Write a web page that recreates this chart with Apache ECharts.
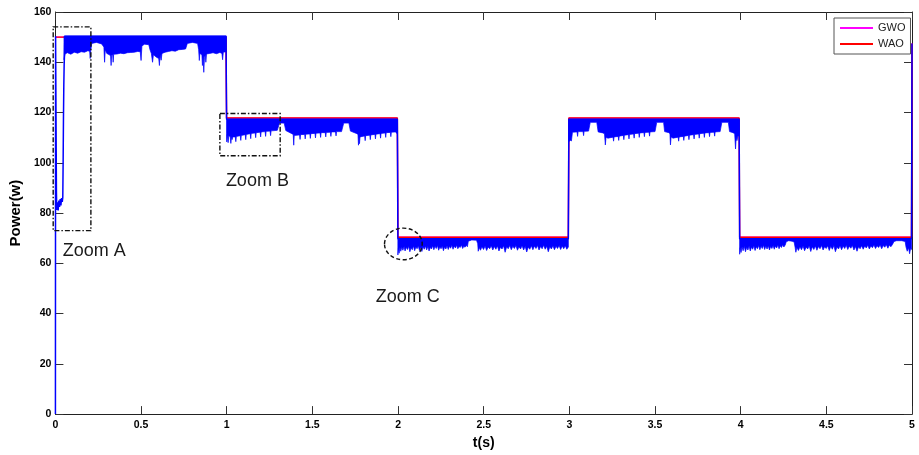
<!DOCTYPE html>
<html>
<head>
<meta charset="utf-8">
<script src="https://cdn.jsdelivr.net/npm/echarts@6/dist/echarts.min.js"></script>
<style>
  html, body { margin: 0; padding: 0; background: #ffffff; }
  #chart { width: 919px; height: 455px; }
</style>
</head>
<body>
<div id="chart"></div>
<script>
// Time axis ticks (s) and power axis ticks (W)
const timeTicks = [0, 0.5, 1, 1.5, 2, 2.5, 3, 3.5, 4, 4.5, 5];
const powerTicks = [0, 20, 40, 60, 80, 100, 120, 140, 160];

// WAO reference power (stepped irradiance profile)
const waoPower = [[0.004,150],[0.996,150],[0.999,117.8],[1.996,117.8],[1.999,70.4],[2.994,70.4],[2.997,117.8],[3.991,117.8],[3.994,70.4],[4.997,70.4],[5.0,147.5]];
// GWO power (runs along the same steps)
const gwoPower = [[0.004,150],[0.996,150],[0.999,117.8],[1.996,117.8],[1.999,70.4],[2.994,70.4],[2.997,117.8],[3.991,117.8],[3.994,70.4],[4.997,70.4],[5.0,147.5]];

// Oscillating tracker output: start-up transient and step transitions
const traceTop = [[0,0],[0.001,150.4],[0.004,150.4],[0.006,88],[0.008,81.2],[0.012,84.3],[0.016,81.0],[0.020,85.0],[0.024,82.4],[0.028,85.6],[0.032,83.0],[0.036,86.0],[0.040,84.4],[0.043,86.2],[0.045,100],[0.047,118],[0.049,131],[0.051,139],[0.053,143],[0.055,150.4],[0.996,150.4],[0.999,117.3],[1.996,117.3],[1.999,69.8],[2.994,69.8],[2.997,117.3],[3.991,117.3],[3.994,69.8],[4.997,69.8],[5.0,147.5]];

// Upper level of the oscillation band on each plateau
const bandTop = [150.4, 117.3, 69.8, 117.3, 69.8];

// Lower edge of the oscillation band, one array per plateau
const lowA = [[0.050,141.0],[0.056,143.3],[0.07,143.8],[0.09,143.2],[0.11,144.0],[0.13,143.6],[0.15,144.2],[0.17,144.0],[0.19,144.6],[0.200,144.3],[0.203,141.5],[0.206,144.5],[0.212,147.5],[0.24,147.9],[0.27,147.3],[0.283,146.0],[0.287,140.0],[0.291,145.0],[0.30,143.5],[0.315,143.0],[0.322,142.5],[0.325,138.7],[0.328,142.8],[0.334,143.0],[0.337,140.0],[0.340,143.2],[0.36,143.3],[0.38,143.6],[0.40,143.4],[0.42,143.8],[0.44,143.9],[0.46,144.0],[0.48,144.3],[0.495,144.2],[0.500,140.7],[0.505,146.5],[0.52,147.2],[0.545,147.0],[0.552,145.0],[0.56,143.5],[0.567,140.0],[0.572,143.0],[0.59,142.0],[0.603,141.5],[0.607,138.7],[0.611,143.0],[0.617,140.8],[0.622,143.5],[0.64,144.0],[0.66,144.3],[0.68,144.6],[0.70,144.4],[0.72,145.0],[0.74,145.1],[0.76,145.3],[0.77,147.5],[0.80,147.9],[0.83,147.5],[0.836,145.0],[0.840,140.7],[0.843,143.5],[0.855,143.0],[0.858,138.7],[0.862,142.5],[0.866,136.0],[0.870,142.0],[0.875,143.0],[0.878,140.0],[0.882,143.3],[0.90,143.5],[0.92,143.8],[0.94,143.4],[0.96,143.9],[0.972,143.5],[0.976,141.0],[0.980,144.0],[0.996,144.2]];

const lowB = [[0.999,111.5],[1.000,108.3],[1.003,111.2],[1.008,108.0],[1.012,110.8],[1.020,110.4],[1.024,107.7],[1.028,110.6],[1.031,109.2],[1.035,110.3],[1.050,110.3],[1.053,108.4],[1.056,110.5],[1.079,110.8],[1.082,108.9],[1.085,110.9],[1.108,111.2],[1.111,109.2],[1.114,111.3],[1.137,111.6],[1.140,109.6],[1.143,111.7],[1.166,111.9],[1.169,110.0],[1.172,112.0],[1.195,112.2],[1.198,110.3],[1.201,112.3],[1.224,112.4],[1.227,110.5],[1.230,112.5],[1.253,112.6],[1.256,110.8],[1.259,112.7],[1.295,112.9],[1.308,115.8],[1.335,115.8],[1.345,112.8],[1.380,111.6],[1.388,111.3],[1.391,107.0],[1.394,110.9],[1.425,111.1],[1.428,109.3],[1.431,111.2],[1.455,111.3],[1.458,109.5],[1.461,111.4],[1.485,111.5],[1.488,109.7],[1.491,111.6],[1.515,111.7],[1.518,109.9],[1.521,111.8],[1.545,111.9],[1.548,110.1],[1.551,112.0],[1.575,112.0],[1.578,110.3],[1.581,112.1],[1.605,112.2],[1.608,110.5],[1.611,112.3],[1.635,112.3],[1.638,110.7],[1.641,112.4],[1.670,112.4],[1.683,115.8],[1.713,115.8],[1.722,112.6],[1.760,111.6],[1.766,111.3],[1.769,107.0],[1.772,110.6],[1.775,107.6],[1.778,110.3],[1.805,110.7],[1.808,108.8],[1.811,110.8],[1.835,111.0],[1.838,109.2],[1.841,111.1],[1.865,111.3],[1.868,109.5],[1.871,111.4],[1.895,111.6],[1.898,109.8],[1.901,111.7],[1.925,111.9],[1.928,110.1],[1.931,112.0],[1.955,112.1],[1.958,110.4],[1.961,112.2],[1.985,112.3],[1.996,111.5]];

const lowC = [[1.999,63.3],[2.002,66.0],[2.006,64.0],[2.011,66.3],[2.016,64.8],[2.022,66.5],[2.028,65.2],[2.035,66.7],[2.041,64.9],[2.048,66.4],[2.055,65.5],[2.062,66.8],[2.069,64.6],[2.076,66.2],[2.083,65.4],[2.090,66.9],[2.097,65.0],[2.104,66.5],[2.111,65.8],[2.118,67.0],[2.125,65.1],[2.132,66.4],[2.139,64.7],[2.146,66.6],[2.153,65.6],[2.160,66.9],[2.167,65.3],[2.174,66.7],[2.181,64.9],[2.188,66.3],[2.195,65.7],[2.202,67.0],[2.209,65.4],[2.216,66.8],[2.223,65.9],[2.230,67.1],[2.237,65.2],[2.244,66.5],[2.251,65.8],[2.258,66.9],[2.265,65.0],[2.272,66.6],[2.279,65.7],[2.286,67.0],[2.293,65.5],[2.300,66.8],[2.307,66.0],[2.314,67.2],[2.321,65.6],[2.328,66.9],[2.335,66.1],[2.342,67.2],[2.349,65.8],[2.356,66.7],[2.363,66.3],[2.370,67.3],[2.377,65.9],[2.384,66.8],[2.391,66.4],[2.398,67.1],[2.405,66.6],[2.410,68.8],[2.430,69.3],[2.458,69.2],[2.465,67.8],[2.468,64.8],[2.474,66.3],[2.481,65.2],[2.490,66.6],[2.499,65.5],[2.508,66.9],[2.517,65.1],[2.526,66.5],[2.535,65.8],[2.544,67.0],[2.553,65.3],[2.562,66.7],[2.571,65.6],[2.580,66.9],[2.589,64.9],[2.598,66.4],[2.607,65.7],[2.616,67.0],[2.625,64.4],[2.634,66.6],[2.643,65.8],[2.652,67.1],[2.661,65.4],[2.670,66.8],[2.679,65.9],[2.688,67.1],[2.697,65.2],[2.706,66.6],[2.715,65.7],[2.724,67.0],[2.733,65.3],[2.742,66.8],[2.751,64.5],[2.760,66.5],[2.769,65.6],[2.778,67.0],[2.787,65.4],[2.796,66.9],[2.805,65.9],[2.814,67.1],[2.823,65.3],[2.832,66.7],[2.841,65.8],[2.850,67.2],[2.859,65.6],[2.868,66.8],[2.877,64.6],[2.886,66.6],[2.895,65.7],[2.904,67.0],[2.913,65.4],[2.922,66.8],[2.931,65.9],[2.940,67.1],[2.949,65.5],[2.958,66.9],[2.967,65.8],[2.976,67.0],[2.985,65.6],[2.994,66.5]];

const lowD = [[2.997,110.5],[2.999,108.5],[3.005,109.0],[3.012,108.7],[3.018,112.2],[3.045,112.3],[3.048,110.5],[3.051,112.4],[3.080,112.4],[3.083,110.8],[3.086,112.5],[3.112,112.6],[3.122,116.1],[3.160,116.1],[3.168,112.3],[3.195,111.9],[3.205,111.6],[3.210,107.1],[3.214,110.2],[3.225,109.8],[3.255,110.2],[3.258,108.6],[3.261,110.3],[3.285,110.5],[3.288,108.9],[3.291,110.6],[3.315,110.9],[3.318,109.2],[3.321,111.0],[3.345,111.2],[3.348,109.5],[3.351,111.3],[3.375,111.5],[3.378,109.8],[3.381,111.6],[3.405,111.8],[3.408,110.1],[3.411,111.9],[3.435,112.0],[3.438,110.4],[3.441,112.1],[3.465,112.2],[3.468,110.6],[3.471,112.3],[3.500,112.4],[3.510,116.1],[3.550,116.1],[3.556,112.4],[3.580,112.0],[3.587,111.6],[3.590,107.1],[3.594,110.3],[3.605,109.8],[3.635,110.2],[3.638,108.6],[3.641,110.3],[3.665,110.5],[3.668,108.9],[3.671,110.6],[3.695,110.9],[3.698,109.2],[3.701,111.0],[3.725,111.2],[3.728,109.5],[3.731,111.3],[3.755,111.5],[3.758,109.8],[3.761,111.6],[3.785,111.8],[3.788,110.1],[3.791,111.9],[3.815,112.0],[3.818,110.4],[3.821,112.1],[3.845,112.2],[3.848,110.6],[3.851,112.3],[3.880,112.4],[3.890,116.1],[3.928,116.1],[3.935,112.4],[3.955,112.0],[3.965,111.6],[3.970,105.5],[3.974,110.4],[3.978,108.8],[3.985,111.0],[3.991,110.5]];

const lowE = [[3.994,63.6],[3.997,66.2],[4.002,64.3],[4.008,66.6],[4.014,65.0],[4.021,66.8],[4.028,64.6],[4.035,66.4],[4.042,65.3],[4.049,66.9],[4.056,64.9],[4.063,66.5],[4.070,65.6],[4.077,67.0],[4.084,65.1],[4.091,66.6],[4.098,65.8],[4.105,67.1],[4.112,65.4],[4.119,66.8],[4.126,65.9],[4.133,67.2],[4.140,65.5],[4.147,66.9],[4.154,65.7],[4.161,67.0],[4.168,65.3],[4.175,66.7],[4.182,65.9],[4.189,67.1],[4.196,65.6],[4.203,66.9],[4.210,66.1],[4.217,67.3],[4.224,65.8],[4.231,67.0],[4.238,66.3],[4.245,67.4],[4.252,66.5],[4.260,67.3],[4.266,68.6],[4.280,69.0],[4.300,68.8],[4.312,68.5],[4.318,66.2],[4.322,64.4],[4.328,66.3],[4.337,65.1],[4.346,66.6],[4.355,65.4],[4.364,66.9],[4.373,65.0],[4.382,66.5],[4.391,65.7],[4.400,67.0],[4.409,64.7],[4.418,66.6],[4.427,65.5],[4.436,66.9],[4.445,65.2],[4.454,66.7],[4.463,65.8],[4.472,67.1],[4.481,65.3],[4.490,66.6],[4.499,65.9],[4.508,67.0],[4.517,65.1],[4.526,66.8],[4.535,65.6],[4.544,67.1],[4.553,64.6],[4.562,66.5],[4.571,65.7],[4.580,67.0],[4.589,65.4],[4.598,66.9],[4.607,65.9],[4.616,67.2],[4.625,65.5],[4.634,66.8],[4.643,66.0],[4.652,67.1],[4.661,65.3],[4.670,66.7],[4.679,64.8],[4.688,66.6],[4.697,65.8],[4.706,67.0],[4.715,65.6],[4.724,66.9],[4.733,66.1],[4.742,67.2],[4.751,65.7],[4.760,66.9],[4.769,66.2],[4.778,67.3],[4.787,65.9],[4.796,67.0],[4.805,66.3],[4.814,67.3],[4.823,65.8],[4.832,67.1],[4.841,66.4],[4.850,67.4],[4.859,66.0],[4.868,67.2],[4.877,66.6],[4.886,67.5],[4.895,68.7],[4.910,69.0],[4.940,69.0],[4.960,68.7],[4.965,66.5],[4.972,64.8],[4.980,66.2],[4.986,63.8],[4.992,66.0],[4.997,65.5]];

const bandLows = [lowA, lowB, lowC, lowD, lowE];

// Zoom annotations: rectangles / ellipse bounds in data units, and label anchors
const zoomBoxes = [[-0.013, 154.1, 0.207, 73.0], [0.96, 119.6, 1.312, 102.8]];
const zoomEllipse = [1.921, 74.0, 2.141, 61.4];
const zoomLabels = [['Zoom A', 0.043, 65.0], ['Zoom B', 0.995, 92.8], ['Zoom C', 1.87, 46.5]];

const chart = echarts.init(document.getElementById('chart'), null, { renderer: 'canvas' });

const tickFont = { fontFamily: 'Liberation Sans, Arial, sans-serif', fontWeight: 'bold', fontSize: 10.5, color: '#000' };
const axisLineStyle = { color: '#222', width: 1 };
const tickStyle = { color: '#333', width: 1 };

function bandRender(params, api) {
  const i = api.value(2);
  const low = bandLows[i];
  const top = bandTop[i];
  const pts = [];
  pts.push(api.coord([low[0][0], top]));
  pts.push(api.coord([low[low.length - 1][0], top]));
  for (let k = low.length - 1; k >= 0; k--) pts.push(api.coord(low[k]));
  return {
    type: 'polygon',
    shape: { points: pts },
    style: { fill: '#0000ff', stroke: '#0000ff', lineWidth: 0.7 }
  };
}

const option = {
  animation: false,
  backgroundColor: '#ffffff',
  grid: { left: 52, right: 7, top: 12, bottom: 37, containLabel: false },
  legend: {
    data: ['GWO', 'WAO'],
    orient: 'vertical',
    left: 834, top: 18,
    padding: [4, 5, 4, 6],
    itemGap: 4,
    itemWidth: 33, itemHeight: 2,
    icon: 'rect',
    backgroundColor: '#ffffff',
    borderColor: '#555',
    borderWidth: 1,
    borderRadius: 0,
    textStyle: { fontFamily: 'Liberation Sans, Arial, sans-serif', fontSize: 11, color: '#222', lineHeight: 12 }
  },
  xAxis: [
    {
      type: 'value', min: 0, max: 5, interval: 0.5, position: 'bottom',
      name: 't(s)', nameLocation: 'middle', nameGap: 16,
      nameTextStyle: { fontFamily: 'Liberation Sans, Arial, sans-serif', fontWeight: 'bold', fontSize: 14, color: '#000' },
      axisLine: { onZero: false, lineStyle: axisLineStyle },
      axisTick: { inside: true, length: 8, lineStyle: tickStyle },
      axisLabel: Object.assign({ margin: 6, formatter: v => String(timeTicks.find(t => Math.abs(t - v) < 1e-9) ?? v) }, tickFont),
      splitLine: { show: false }
    },
    {
      type: 'value', min: 0, max: 5, interval: 0.5, position: 'top',
      axisLine: { onZero: false, lineStyle: axisLineStyle },
      axisTick: { inside: true, length: 8, lineStyle: tickStyle },
      axisLabel: { show: false },
      splitLine: { show: false }
    }
  ],
  yAxis: [
    {
      type: 'value', min: 0, max: 160, interval: 20, position: 'left',
      name: 'Power(w)', nameLocation: 'middle', nameGap: 26, nameRotate: 90,
      nameTextStyle: { fontFamily: 'Liberation Sans, Arial, sans-serif', fontWeight: 'bold', fontSize: 15, color: '#000' },
      axisLine: { show: true, onZero: false, lineStyle: axisLineStyle },
      axisTick: { show: true, inside: true, length: 8, lineStyle: tickStyle },
      axisLabel: Object.assign({ margin: 4, formatter: v => String(powerTicks.find(t => t === v) ?? v) }, tickFont),
      splitLine: { show: false }
    },
    {
      type: 'value', min: 0, max: 160, interval: 20, position: 'right',
      axisLine: { show: true, onZero: false, lineStyle: axisLineStyle },
      axisTick: { show: true, inside: true, length: 8, lineStyle: tickStyle },
      axisLabel: { show: false },
      splitLine: { show: false }
    }
  ],
  series: [
    {
      name: 'GWO', type: 'line', data: gwoPower, showSymbol: false, z: 1,
      lineStyle: { color: '#ff00ff', width: 1.2 }, itemStyle: { color: '#ff00ff' }
    },
    {
      name: 'WAO', type: 'line', data: waoPower, showSymbol: false, z: 2,
      lineStyle: { color: '#ff0000', width: 1.4 }, itemStyle: { color: '#ff0000' }
    },
    {
      name: 'Band', type: 'custom', z: 3,
      renderItem: bandRender,
      data: bandLows.map((low, i) => [low[0][0], bandTop[i], i]),
      encode: { x: 0, y: 1 },
      silent: true
    },
    {
      name: 'Tracker', type: 'line', data: traceTop, showSymbol: false, z: 4,
      lineStyle: { color: '#0000ff', width: 1.5 }, itemStyle: { color: '#0000ff' }
    }
  ]
};

chart.setOption(option);

// Zoom region annotations placed through the axis scales
const toPx = p => chart.convertToPixel({ seriesIndex: 1 }, p);
const graphics = [];
zoomBoxes.forEach(b => {
  const a = toPx([b[0], b[1]]);
  const c = toPx([b[2], b[3]]);
  graphics.push({
    type: 'rect', z: 100,
    shape: { x: a[0], y: a[1], width: c[0] - a[0], height: c[1] - a[1] },
    style: { fill: 'none', stroke: '#111', lineWidth: 1.4, lineDash: [5, 2, 1.5, 2] }
  });
});
{
  const a = toPx([zoomEllipse[0], zoomEllipse[1]]);
  const c = toPx([zoomEllipse[2], zoomEllipse[3]]);
  graphics.push({
    type: 'ellipse', z: 100,
    shape: { cx: (a[0] + c[0]) / 2, cy: (a[1] + c[1]) / 2, rx: (c[0] - a[0]) / 2, ry: (c[1] - a[1]) / 2 },
    style: { fill: 'none', stroke: '#111', lineWidth: 1.4, lineDash: [4, 2.5] }
  });
}
zoomLabels.forEach(l => {
  const p = toPx([l[1], l[2]]);
  graphics.push({
    type: 'text', z: 100, x: p[0], y: p[1],
    style: { text: l[0], fill: '#1a1a1a', font: '18px Liberation Sans, Arial, sans-serif', textAlign: 'left', textVerticalAlign: 'middle' }
  });
});
chart.setOption({ graphic: graphics });
</script>
</body>
</html>
